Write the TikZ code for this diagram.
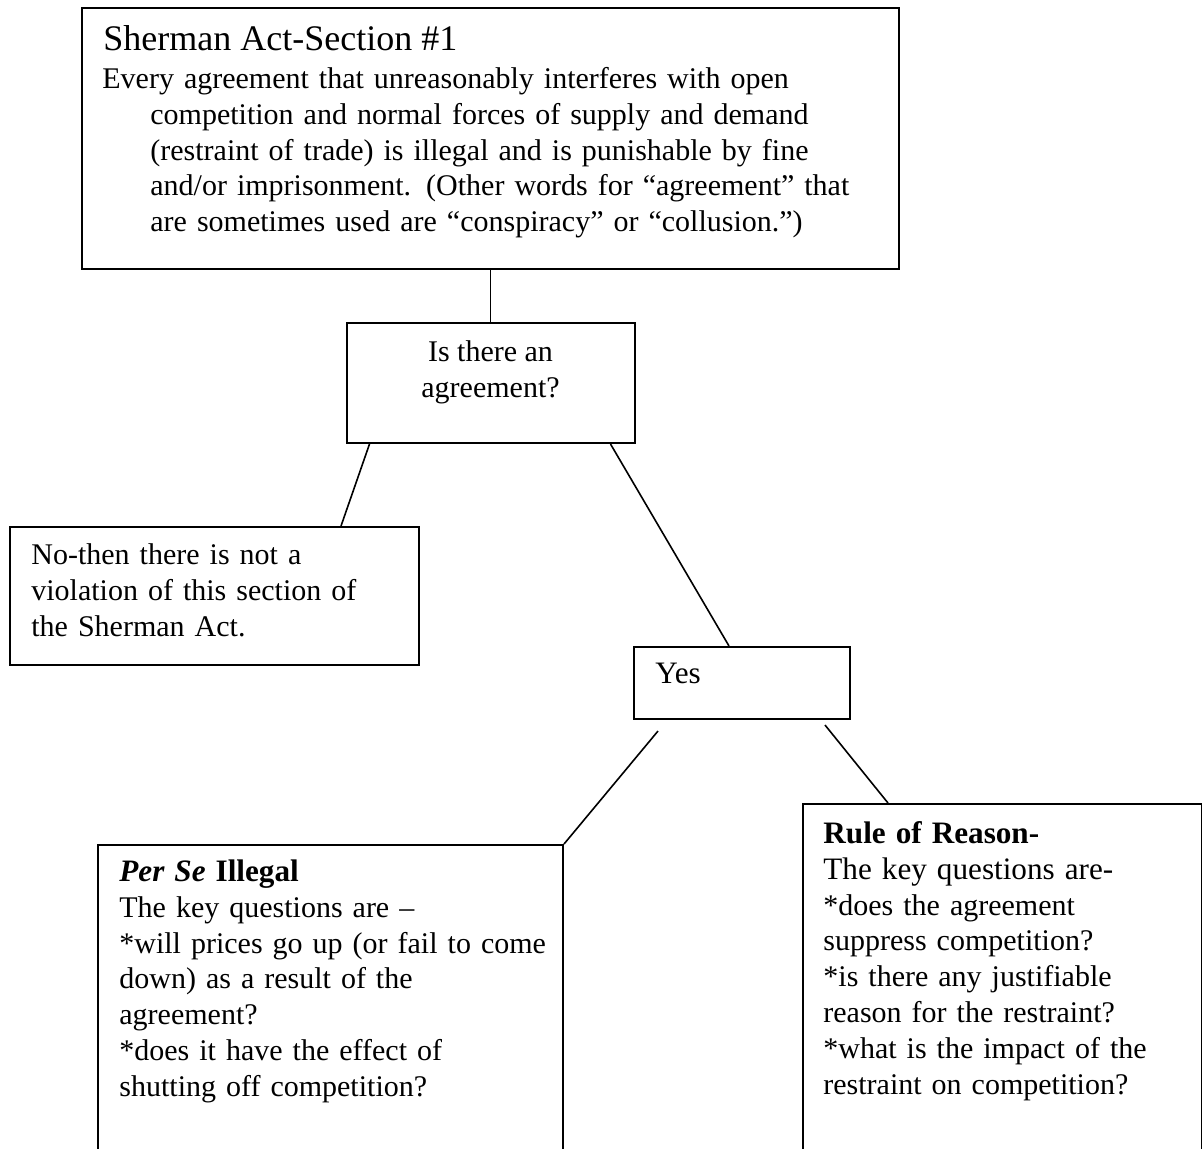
\documentclass[tikz,border=0pt]{standalone}
\usepackage{fontspec}
\setmainfont{Liberation Serif}
\usetikzlibrary{positioning, calc}

\newcommand{\bodyfont}{\fontsize{15pt}{17.9pt}\selectfont}
\newcommand{\plainfont}{\fontsize{15.6pt}{17.9pt}\selectfont}
\newcommand{\headfont}{\fontsize{18pt}{21pt}\selectfont}

\begin{document}
\begin{tikzpicture}[
  x=0.5pt, y=-0.5pt,
  box/.style={draw=black, line width=1pt, fill=white, rectangle, inner sep=0pt, anchor=north west},
  txt/.style={inner sep=0pt, anchor=north west, align=left, font=\bodyfont},
  link/.style={draw=black, line width=0.8pt},
]
  \useasboundingbox (0,0) rectangle (1202,1148);
  \clip (0,0) rectangle (1202,1148);

  % Boxes (the two lower ones run off the page)
  \node[box, minimum width=408.5pt, minimum height=130.5pt] (act)   at (81,7)      {};
  \node[box, minimum width=144pt,   minimum height=60pt]    (agree) at (345.5,322) {};
  \node[box, minimum width=204.5pt, minimum height=69pt]    (nobox) at (9,526)     {};
  \node[box, minimum width=108pt,   minimum height=36pt]    (yes)   at (633,646)   {};
  \node[box, minimum width=232.5pt, minimum height=165pt]   (perse) at (97,844)    {};
  \node[box, minimum width=199.5pt, minimum height=185pt]   (ror)   at (802,803)   {};

  % Texts
  \node[font=\headfont, inner sep=0pt, anchor=base west] (acttitle) at ($(act.north west)+(22,43)$) {Sherman Act-Section \#1};
  \node[txt, text width=398pt] (actbody) at ($(act.north west)+(21,56)$)
    {\strut Every agreement that unreasonably interferes with open\\
     \hspace*{24pt}competition and normal forces of supply and demand\\
     \hspace*{24pt}(restraint of trade) is illegal and is punishable by fine\\
     \hspace*{24pt}and/or imprisonment. (Other words for “agreement” that\\
     \hspace*{24pt}are sometimes used are “conspiracy” or “collusion.”)};

  \node[font=\bodyfont, inner sep=0pt, align=center, anchor=north] (agreetxt) at ($(agree.north)+(0,14)$)
    {\strut Is there an\\ agreement?};

  \node[txt, text width=195pt] (notxt) at ($(nobox.north west)+(22,13)$)
    {\strut No-then there is not a\\ violation of this section of\\ the Sherman Act.};

  \node[font=\plainfont, inner sep=0pt, anchor=base west] (yestxt) at ($(yes.north west)+(22,37)$) {Yes};

  \node[txt, text width=225pt] (persetxt) at ($(perse.north west)+(22,12)$)
    {\strut{\plainfont\textbf{\textit{Per Se}} \textbf{Illegal}}\\
     The key questions are –\\
     {}*will prices go up (or fail to come\\
     down) as a result of the\\
     agreement?\\
     {}*does it have the effect of\\
     shutting off competition?};

  \node[txt, text width=190pt] (rortxt) at ($(ror.north west)+(21,15)$)
    {\strut{\plainfont\textbf{Rule of Reason-}}\\
     {\plainfont The key questions are-}\\
     {}*does the agreement\\
     suppress competition?\\
     {}*is there any justifiable\\
     reason for the restraint?\\
     {}*what is the impact of the\\
     restraint on competition?};

  % Connectors
  \draw[link] (act.south) -- (agree.north);
  \draw[link] ($(agree.south west)+(24,0)$) -- ($(nobox.north west)+(332,0)$);
  \draw[link] ($(agree.south west)+(265,0)$) -- ($(yes.north west)+(96,0)$);
  \draw[link] ($(yes.south west)+(25,11)$) -- (perse.north east);
  \draw[link] ($(yes.south west)+(192,5)$) -- ($(ror.north west)+(86,0)$);
\end{tikzpicture}
\end{document}
